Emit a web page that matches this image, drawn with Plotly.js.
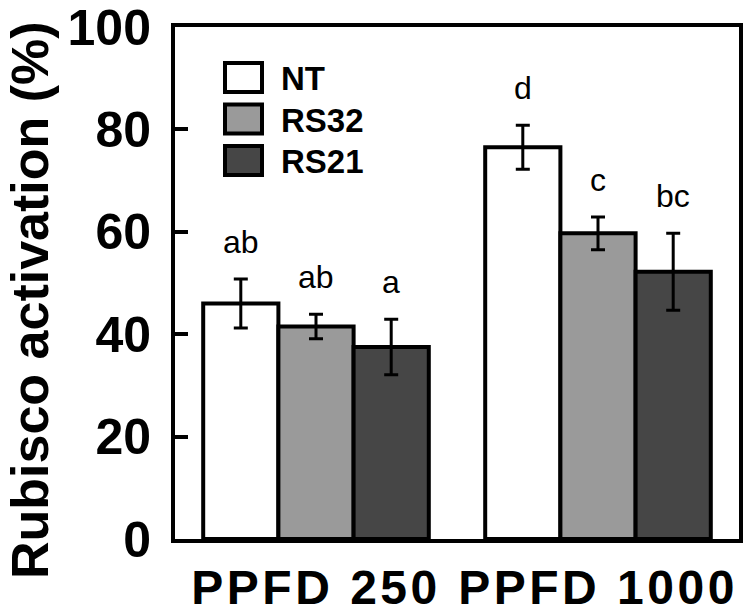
<!DOCTYPE html>
<html>
<head>
<meta charset="utf-8">
<script src="https://cdn.plot.ly/plotly-3.0.1.min.js"></script>
<style>
html,body{margin:0;padding:0;background:#fff;}
.xtick text{letter-spacing:3.5px;}
</style>
</head>
<body>
<div id="chart" style="width:747px;height:615px;"></div>
<script>
// ---- data ----
const categories = ["PPFD 250", "PPFD 1000"];
const seriesNames = ["NT", "RS32", "RS21"];
const NT   = [46.0, 76.5];
const RS32 = [41.5, 59.7];
const RS21 = [37.5, 52.2];
const NT_err   = [4.8, 4.3];
const RS32_err = [2.4, 3.2];
const RS21_err = [5.4, 7.5];
const NT_letters   = ["ab", "d"];
const RS32_letters = ["ab", "c"];
const RS21_letters = ["a", "bc"];
const seriesColors = ["#ffffff", "#9a9a9a", "#464646"];
const yTicks = [0, 20, 40, 60, 80, 100];
const yTitle = "Rubisco activation (%)";

const values = [NT, RS32, RS21];
const errs = [NT_err, RS32_err, RS21_err];
const letters = [NT_letters, RS32_letters, RS21_letters];
const xIdx = categories.map((c, i) => i);

const FONT = "Liberation Sans, Arial, sans-serif";
const bargap = 0.2;
const barW = (1 - bargap) / seriesNames.length;

const traces = seriesNames.map((name, k) => ({
  type: "bar",
  name: name,
  x: xIdx,
  y: values[k],
  marker: { color: seriesColors[k], line: { color: "#000", width: 4 } },
  error_y: { type: "data", array: errs[k], visible: true, color: "#000", thickness: 3, width: 7 },
  showlegend: false,
  hoverinfo: "skip"
}));

const annotations = [];
seriesNames.forEach((name, k) => {
  xIdx.forEach((xi, i) => {
    annotations.push({
      x: xi + (k - (seriesNames.length - 1) / 2) * barW,
      y: values[k][i] + errs[k][i],
      xref: "x", yref: "y",
      text: letters[k][i],
      showarrow: false,
      yanchor: "bottom",
      yshift: 17,
      font: { family: FONT, size: 32, color: "#000" }
    });
  });
});

// manual legend (large swatches), positions in paper units
const plotL = 175, plotR = 739, plotT = 27, plotB = 539;
const px2x = p => (p - plotL) / (plotR - plotL);
const py2y = p => (plotB - p) / (plotB - plotT);
const shapes = [];
seriesNames.forEach((name, k) => {
  const cy = 77.5 + k * 41.5;
  shapes.push({
    type: "rect", xref: "paper", yref: "paper",
    x0: px2x(225), x1: px2x(262), y0: py2y(cy + 14.5), y1: py2y(cy - 14.5),
    fillcolor: seriesColors[k], line: { color: "#000", width: 4 }
  });
  annotations.push({
    xref: "paper", yref: "paper", x: px2x(279), y: py2y(cy + 1),
    xanchor: "left", yanchor: "middle", showarrow: false,
    text: "<b>" + name + "</b>",
    font: { family: FONT, size: 33, color: "#000" }
  });
});

// y-axis title as rotated annotation
annotations.push({
  xref: "paper", yref: "paper", x: px2x(30), y: py2y(300),
  xanchor: "center", yanchor: "middle", textangle: -90, showarrow: false,
  text: "<b>" + yTitle + "</b>",
  font: { family: FONT, size: 52, color: "#000" }
});

const layout = {
  width: 747, height: 615,
  margin: { l: plotL, r: 747 - plotR, t: plotT, b: 615 - plotB },
  paper_bgcolor: "#fff", plot_bgcolor: "#fff",
  barmode: "group", bargap: bargap, bargroupgap: 0,
  xaxis: {
    range: [-0.5, 1.5],
    tickvals: xIdx, ticktext: categories,
    showgrid: false, zeroline: false,
    showline: true, linecolor: "#000", linewidth: 4, mirror: true,
    ticks: "",
    ticklabelstandoff: 3,
    ticklabeloverflow: "allow",
    tickfont: { family: FONT, size: 48, color: "#000", weight: "bold" }
  },
  yaxis: {
    range: [0, 100],
    tickvals: yTicks,
    showgrid: false, zeroline: false,
    showline: true, linecolor: "#000", linewidth: 4, mirror: true,
    ticks: "inside", ticklen: 13, tickwidth: 4, tickcolor: "#000",
    ticklabelstandoff: 10,
    ticklabeloverflow: "allow",
    tickfont: { family: FONT, size: 50, color: "#000", weight: "bold" }
  },
  shapes: shapes,
  annotations: annotations,
  showlegend: false
};

Plotly.newPlot("chart", traces, layout, { staticPlot: true, displayModeBar: false });
</script>
</body>
</html>
